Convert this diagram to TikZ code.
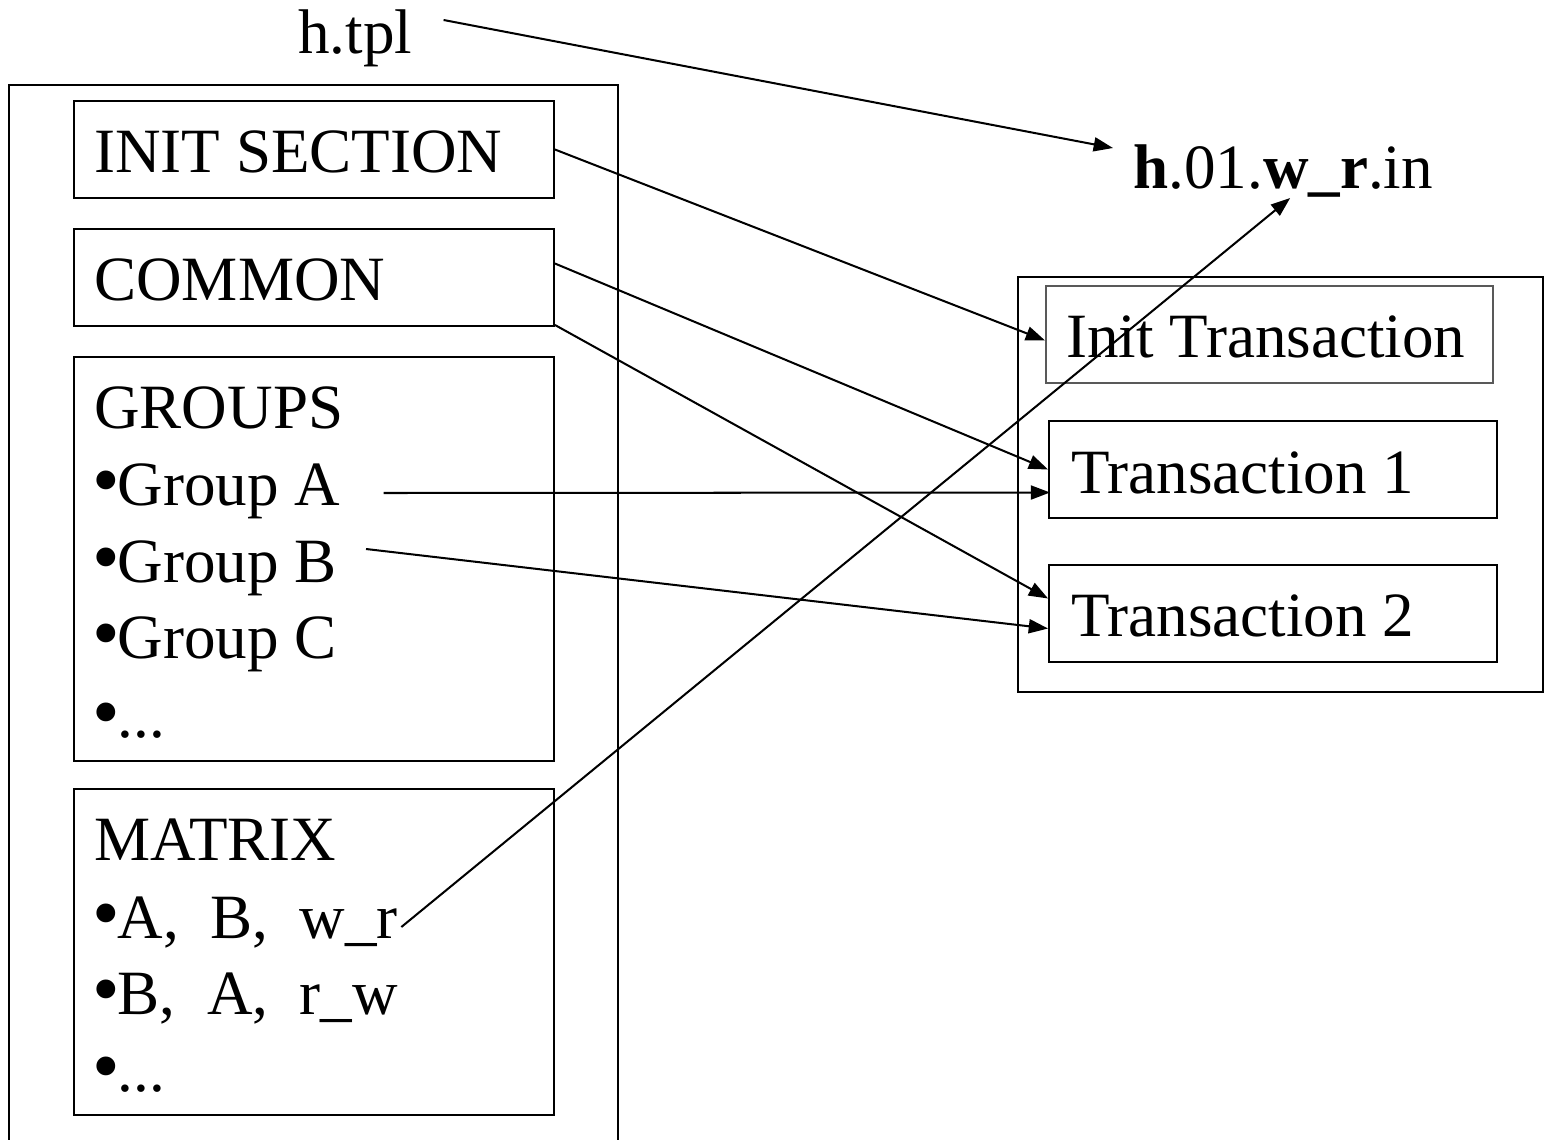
\documentclass[tikz,border=0pt]{standalone}
\usepackage{fontspec}
\usepackage{graphicx}
\setmainfont{Liberation Serif}
\usetikzlibrary{arrows.meta,calc}

\newcommand{\bul}{\makebox[0.37em][c]{\raisebox{-0.02em}{\scalebox{1.25}{•}}}}

\begin{document}
\begin{tikzpicture}[x=0.02cm, y=-0.02cm,
  box/.style={draw, line width=1.1pt, inner sep=0pt},
  txt/.style={font=\fontsize{35.9}{43}\selectfont, inner sep=0pt, anchor=base west},
  arr/.style={-{Triangle[length=11pt,width=8pt]}, line width=1.15pt},
]
\useasboundingbox (0,0) rectangle (1546,1140);

% template file, open at the bottom
\draw[line width=1.1pt] (9,1140) -- (9,85) -- (618,85) -- (618,1140);

\node[box, minimum width=9.6cm, minimum height=1.94cm] (init) at (314,149.5) {};
\node[box, minimum width=9.6cm, minimum height=1.94cm] (common) at (314,277.5) {};
\node[box, minimum width=9.6cm, minimum height=8.08cm] (groups) at (314,559) {};
\node[box, minimum width=9.6cm, minimum height=6.52cm] (mtx) at (314,952) {};

\node[txt] (initlbl) at (94,172) {INIT SECTION};
\node[txt] (commonlbl) at (94,300) {COMMON};
\node[txt] (groupslbl) at (94,428) {GROUPS};
\node[txt] (grpa) at (94,505) {\bul Group A};
\node[txt] (grpb) at (94,582) {\bul Group B};
\node[txt] (grpc) at (94,658) {\bul Group C};
\node[txt] (grpmore) at (94,737) {\bul...};
\node[txt] (mtxlbl) at (94,860) {MATRIX};
\node[txt] (mtxa) at (94,938) {\bul A,\ \ B,\ \ w\_r};
\node[txt] (mtxb) at (94,1014) {\bul B,\ \ A,\ \ r\_w};
\node[txt] (mtxmore) at (94,1091) {\bul...};

% generated test file
\node[box, minimum width=10.5cm, minimum height=8.3cm] (run) at (1280.5,484.5) {};
\node[box, draw=black!65, minimum width=8.94cm, minimum height=1.94cm] (initT) at (1269.5,334.5) {};
\node[box, minimum width=8.96cm, minimum height=1.94cm] (tr1) at (1273,469.5) {};
\node[box, minimum width=8.96cm, minimum height=1.94cm] (tr2) at (1273,613.5) {};
\node[txt] (initTlbl) at (1066,357) {Init Transaction};
\node[txt] (tr1lbl) at (1071,493) {Transaction 1};
\node[txt] (tr2lbl) at (1071,636) {Transaction 2};

\node[txt] (htpl) at (298,53) {h.tpl};
\node[txt] (hout) at (1133,188) {\textbf{h}.01.\textbf{w\_r}.in};

\draw[arr] ($(htpl.base east)+(31,-33)$) -- ($(hout.base west)+(-20,-40)$);
\draw[arr] (init.east) -- ($(initT.west)+(0,6)$);
\draw[arr] ($(common.east)+(0,-14)$) -- (tr1.west);
\draw[arr] ($(common.south east)+(0,-2)$) -- ($(tr2.west)+(0,-15)$);
\draw[arr] ($(grpa.base east)+(43,-12)$) -- ($(tr1.west)+(2,23)$);
\draw[arr] ($(grpb.base east)+(29,-33)$) -- ($(tr2.west)+(0,15)$);
\draw[arr] ($(mtxa.base east)+(3,-11)$) -- ($(hout.base)+(7,10)$);
\end{tikzpicture}
\end{document}
